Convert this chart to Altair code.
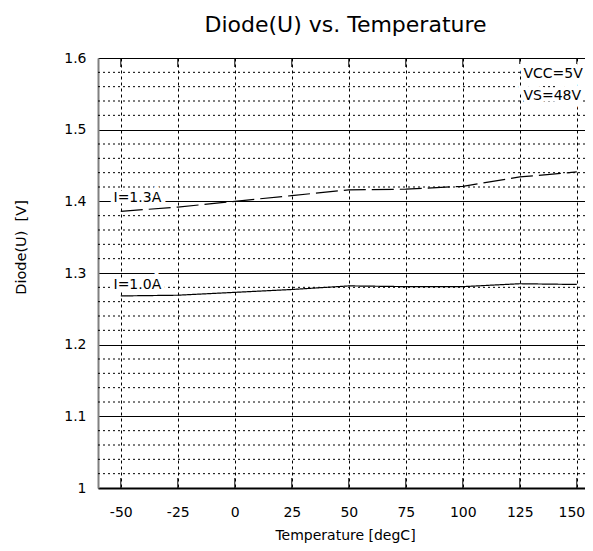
import altair as alt
import pandas as pd

# ---- data ----
temps = [-50, -25, 0, 25, 50, 75, 100, 125, 150]
v_13A = [1.386, 1.392, 1.400, 1.408, 1.416, 1.417, 1.421, 1.434, 1.441]
v_10A = [1.268, 1.269, 1.273, 1.277, 1.282, 1.281, 1.281, 1.285, 1.284]
series_names = ["I=1.3A", "I=1.0A"]

x_ticks = [-50, -25, 0, 25, 50, 75, 100, 125, 150]
y_major = [1.0, 1.1, 1.2, 1.3, 1.4, 1.5, 1.6]
y_minor = [1.02, 1.04, 1.06, 1.08, 1.12, 1.14, 1.16, 1.18,
           1.22, 1.24, 1.26, 1.28, 1.32, 1.34, 1.36, 1.38,
           1.42, 1.44, 1.46, 1.48, 1.52, 1.54, 1.56, 1.58]

note_text = ["I=1.3A", "I=1.0A", "VCC=5V", "VS=48V"]
note_t = [-53.2, -53.2, 126.6, 126.6]
note_v = [1.399, 1.2777, 1.5717, 1.5414]

FONT = "DejaVu Sans"

rows = []
for name, vals in zip(series_names, [v_13A, v_10A]):
    for t, v in zip(temps, vals):
        rows.append({"temp": t, "volt": v, "series": name})
df = pd.DataFrame(rows)
minor_df = pd.DataFrame({"volt": y_minor})
tick_df = pd.DataFrame({"temp": x_ticks})
note_df = pd.DataFrame({"label": note_text, "temp": note_t, "volt": note_v})

x_scale = alt.Scale(domain=[-60, 153.6], nice=False, zero=False)
y_scale = alt.Scale(domain=[1.0, 1.6], nice=False, zero=False)

x_axis = alt.Axis(
    values=x_ticks, title="Temperature [degC]", grid=True,
    gridDash=[3, 3], gridColor="black", gridWidth=1, gridOpacity=1,
    ticks=False, domainColor="black", domainWidth=2,
    labelExpr="'' + datum.value",
    labelAlign=alt.ExprRef(expr="datum.value == 150 ? 'right' : 'center'"),
    labelOffset=alt.ExprRef(expr="datum.value == 150 ? 8 : 0"),
    labelBaseline="alphabetic", labelPadding=28,
    labelFontSize=14, labelFont=FONT, labelColor="black",
    titleFontSize=14, titleFont=FONT, titleFontWeight="normal", titleColor="black",
    titleBaseline="alphabetic", titleAlign="center", titleX=247, titleY=51.5)
y_axis = alt.Axis(
    values=y_major, format="~g", title="Diode(U)\u00a0 [V]", grid=True,
    gridColor="black", gridWidth=1, gridOpacity=1,
    ticks=False, domainColor="#808080", domainWidth=2,
    labelPadding=12, labelFontSize=14, labelFont=FONT, labelColor="black",
    titleFontSize=14.5, titleFont=FONT, titleFontWeight="normal", titleColor="black",
    titleBaseline="alphabetic", titleAlign="center", titleAngle=270,
    titleX=-73, titleY=189)

X = alt.X("temp:Q", scale=x_scale, axis=x_axis)
Y = alt.Y("volt:Q", scale=y_scale, axis=y_axis)

lines = alt.Chart(df).mark_line(color="black", strokeWidth=1.2).encode(
    x=X, y=Y,
    strokeDash=alt.StrokeDash("series:N", scale=alt.Scale(
        domain=series_names, range=[[22, 6], [1, 0]]), legend=None),
    detail="series:N",
)

minor = alt.Chart(minor_df).mark_rule(color="black", strokeWidth=1, strokeDash=[2, 3]).encode(
    y=Y
)

ticks_bottom = alt.Chart(tick_df).mark_rule(color="black", strokeWidth=1).encode(
    x=X, y=alt.value(430), y2=alt.value(420)
)
ticks_top = alt.Chart(tick_df).mark_rule(color="black", strokeWidth=1).encode(
    x=X, y=alt.value(0), y2=alt.value(9)
)

halo = alt.Chart(note_df).mark_text(
    align="left", baseline="alphabetic", font=FONT, fontSize=14,
    color="white", stroke="white", strokeWidth=8
).encode(x=X, y=Y, text="label:N")
notes = alt.Chart(note_df).mark_text(
    align="left", baseline="alphabetic", font=FONT, fontSize=14, color="black"
).encode(x=X, y=Y, text="label:N")

chart = alt.layer(minor, ticks_bottom, ticks_top, lines, halo, notes).properties(
    width=487, height=430,
    title=alt.TitleParams("Diode(U) vs. Temperature", font=FONT, fontSize=22,
                          fontWeight="normal", color="black", anchor="middle",
                          frame="group", baseline="alphabetic", offset=6, dx=4, dy=9),
    autosize=alt.AutoSizeParams(type="none"),
    padding={"left": 90, "top": 50, "right": 0, "bottom": 55},
).configure_view(stroke=None).configure(background="white")

chart.save("out.html", embed_options={"renderer": "svg", "actions": False})
